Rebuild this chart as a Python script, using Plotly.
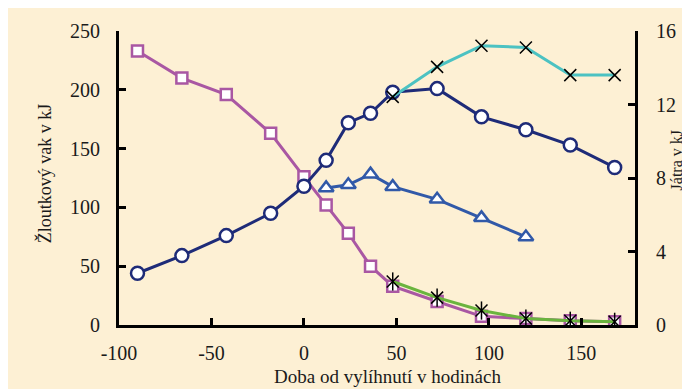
import plotly.graph_objects as go

# Hours since hatching
hours = [-90, -66, -42, -18, 0, 12, 24, 36, 48, 72, 96, 120, 144, 168]
yolk_sac = [233, 210, 196, 163, 126, 102, 78, 50, 33, 20, 7.4, 5.5, 3.6, 2.7]
body = [44, 59, 76, 95, 118, 140, 172, 180, 198, 201, 177, 166, 153, 134]

hours_tri = [12, 24, 36, 48, 72, 96, 120]
liver = [7.46, 7.63, 8.21, 7.53, 6.84, 5.83, 4.79]

hours_late = [48, 72, 96, 120, 144, 168]
series_cyan = [194, 219.5, 237.5, 236, 212.5, 212.5]
series_green = [37, 23.3, 12.3, 5.5, 3.6, 2.7]

x_ticks = [-100, -50, 0, 50, 100, 150]
x_ticktext = ["-100", "-50", "0", "50", "100", "150"]
y_left_ticks = [0, 50, 100, 150, 200, 250]
y_right_ticks = [0, 4, 8, 12, 16]

BG = "#fdf0d4"
PURPLE = "#a957a3"
NAVY = "#1e2b78"
BLUE = "#3159a8"
CYAN = "#4cc2c2"
GREEN = "#6ab43e"
FONT = "Liberation Serif"

fig = go.Figure()

fig.add_trace(go.Scatter(
    x=hours, y=yolk_sac, mode="lines+markers",
    line=dict(color=PURPLE, width=3),
    marker=dict(symbol="square", size=11, color="white",
                line=dict(color=PURPLE, width=2.5)),
    showlegend=False))

fig.add_trace(go.Scatter(
    x=hours, y=body, mode="lines+markers",
    line=dict(color=NAVY, width=3),
    marker=dict(symbol="circle", size=13, color="white",
                line=dict(color=NAVY, width=2.5)),
    showlegend=False))

fig.add_trace(go.Scatter(
    x=hours_tri, y=liver, mode="lines+markers", yaxis="y2",
    line=dict(color=BLUE, width=3),
    marker=dict(symbol="triangle-up", size=13, color="white",
                line=dict(color=BLUE, width=2.5)),
    showlegend=False))

fig.add_trace(go.Scatter(
    x=hours_late, y=series_cyan, mode="lines+markers",
    line=dict(color=CYAN, width=3),
    marker=dict(symbol="x-thin", size=12, color="black",
                line=dict(color="black", width=1.5)),
    showlegend=False))

fig.add_trace(go.Scatter(
    x=hours_late, y=series_green, mode="lines+markers",
    line=dict(color=GREEN, width=3),
    marker=dict(symbol="x-thin", size=12, color="black",
                line=dict(color="black", width=1.5)),
    showlegend=False))
fig.add_trace(go.Scatter(
    x=hours_late, y=series_green, mode="markers",
    marker=dict(symbol="line-ns", size=13, color="black",
                line=dict(color="black", width=1.5)),
    showlegend=False))

axis_common = dict(
    showgrid=False, zeroline=False, showline=True, linecolor="black",
    linewidth=3, ticks="inside", ticklen=7, tickwidth=2.5, tickcolor="black",
    tickfont=dict(family=FONT, size=20, color="#1a1a1a"))

# The page body has an 8px default margin, so the figure is sized to fit.
fig.update_layout(
    width=682, height=381,
    margin=dict(l=111, r=55, t=13, b=64),
    paper_bgcolor=BG, plot_bgcolor=BG,
    font=dict(family=FONT, color="#1a1a1a"),
    xaxis=dict(range=[-100, 179], tickvals=x_ticks, ticktext=x_ticktext,
               ticklabelstandoff=8, **axis_common),
    yaxis=dict(range=[0, 250], tickvals=y_left_ticks, ticklabelstandoff=12,
               **axis_common),
    yaxis2=dict(range=[0, 16], tickvals=y_right_ticks, overlaying="y",
                side="right", ticklabelstandoff=14, **axis_common),
    annotations=[
        dict(text="Žloutkový vak v kJ", xref="paper", yref="paper",
             x=-0.1453, y=0.516, textangle=-90, showarrow=False,
             xanchor="center", yanchor="middle",
             font=dict(family=FONT, size=18, color="#1a1a1a")),
        dict(text="Játra v kJ", xref="paper", yref="paper",
             x=1.081, y=0.559, textangle=-90, showarrow=False,
             xanchor="center", yanchor="middle",
             font=dict(family=FONT, size=16, color="#1a1a1a")),
        dict(text="Doba od vylíhnutí v hodinách", xref="paper", yref="paper",
             x=0.521, y=-0.174, showarrow=False,
             xanchor="center", yanchor="middle",
             font=dict(family=FONT, size=19, color="#1a1a1a")),
    ],
)

fig.write_html("out.html")
